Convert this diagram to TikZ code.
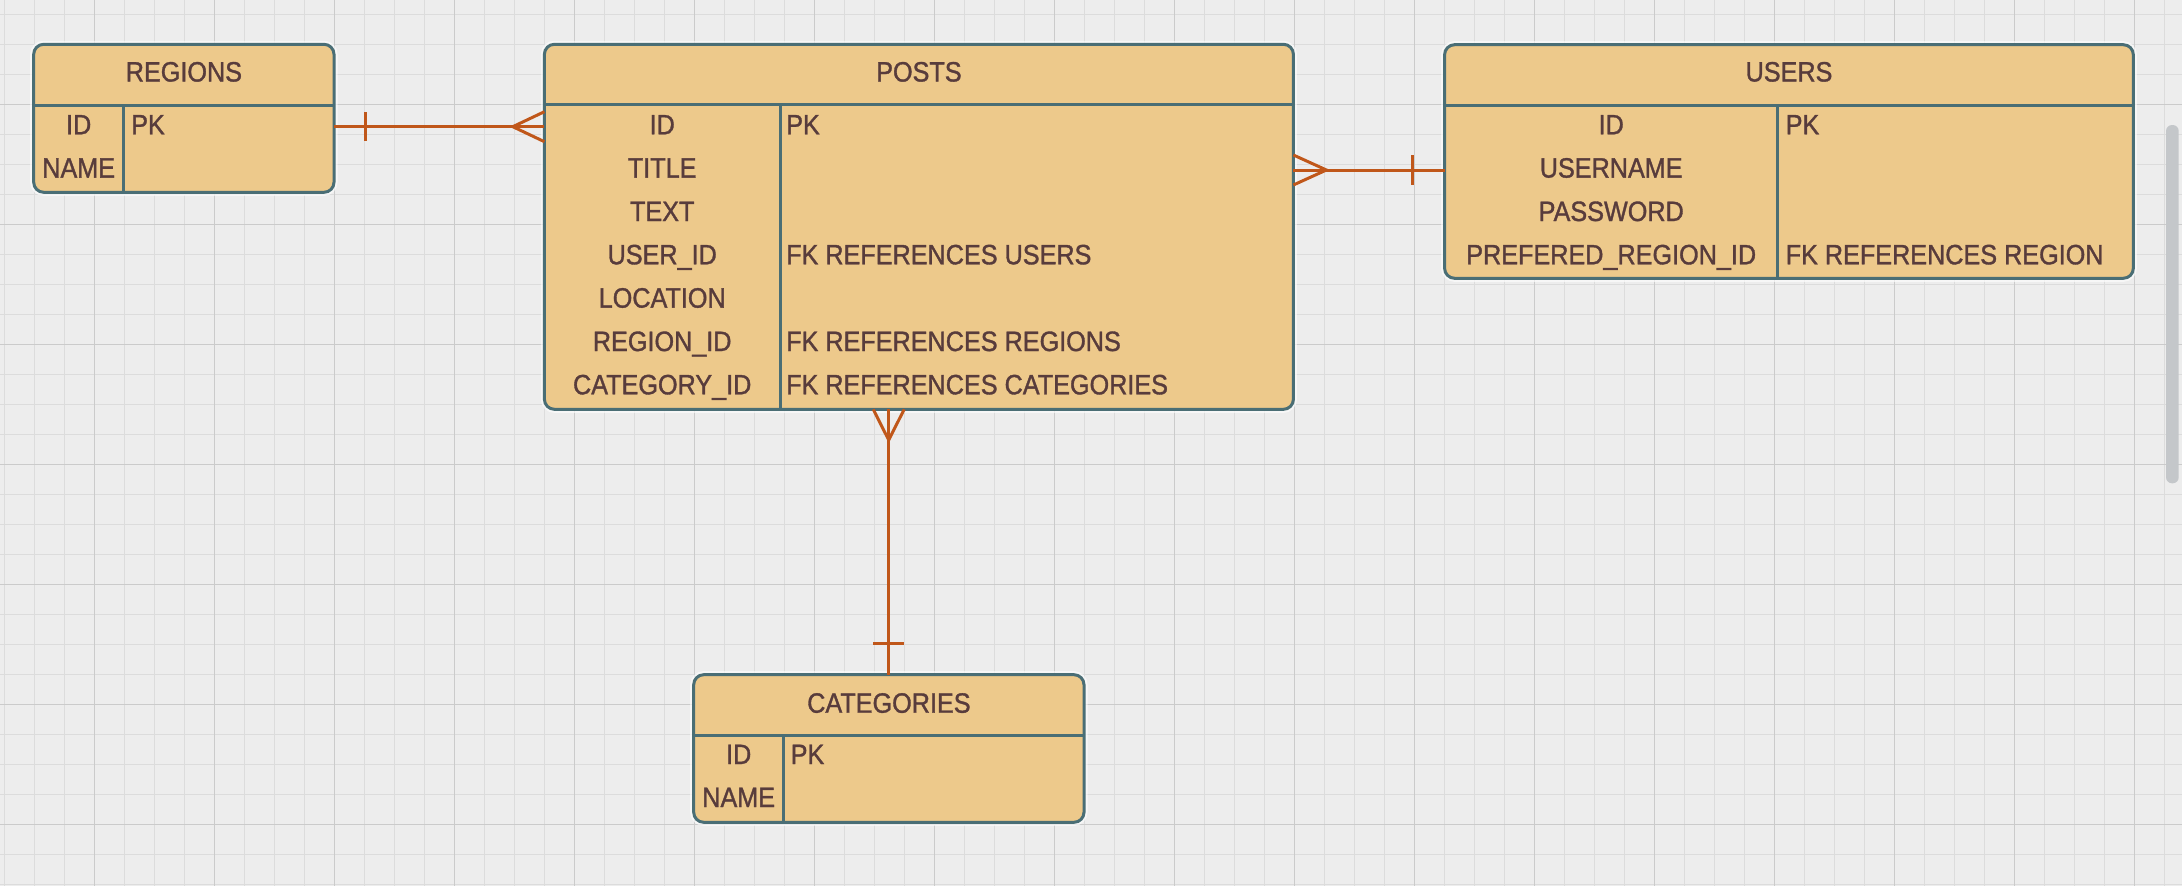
\documentclass[tikz,border=0pt]{standalone}
\usepackage{fontspec}
\setmainfont{Liberation Sans}
\newfontfamily\lblfont{Liberation Sans}[FakeStretch=0.9,FakeBold=1.2]
\definecolor{bgc}{HTML}{EDEDED}
\definecolor{gridminor}{HTML}{DCDCDC}
\definecolor{gridmajor}{HTML}{CBCBCB}
\definecolor{tblfill}{HTML}{EDC98B}
\definecolor{tblborder}{HTML}{4A6E75}
\definecolor{txtc}{HTML}{583C3C}
\definecolor{relc}{HTML}{C0571A}
\definecolor{scrollc}{HTML}{C4C7CA}
\begin{document}
\begin{tikzpicture}[x=1pt,y=-1pt,
  tbl/.style={draw=tblborder, fill=tblfill, line width=3pt, rounded corners=10pt,
    inner sep=0pt, outer sep=0pt, anchor=north west,
    preaction={draw=white, draw opacity=0.6, line width=7pt}},
  divline/.style={draw=tblborder, line width=3pt},
  lbl/.style={text=txtc, inner sep=0pt, anchor=base, font=\lblfont\fontsize{28}{32}\selectfont},
  lbll/.style={lbl, anchor=base west},
  relline/.style={draw=relc, line width=3pt},
  minorline/.style={draw=gridminor, line width=1.1pt},
  majorline/.style={draw=gridmajor, line width=1.3pt}]
\useasboundingbox (0,0) rectangle (2182,886);
\fill[bgc] (0,0) rectangle (2182,886);
% grid
\foreach \i in {0,...,72} {\draw[minorline] ({4.5+30*\i},0) -- ({4.5+30*\i},886);}
\foreach \i in {0,...,29} {\draw[minorline] (0,{14.7+30*\i}) -- (2182,{14.7+30*\i});}
\foreach \i in {0,...,17} {\draw[majorline] ({94.5+120*\i},0) -- ({94.5+120*\i},886);}
\foreach \i in {0,...,6} {\draw[majorline] (0,{104.7+120*\i}) -- (2182,{104.7+120*\i});}
% scrollbar
\fill[scrollc, rounded corners=6pt] (2166,125) rectangle (2178.7,483.3);

% tables
\node[tbl, minimum width=300.3pt, minimum height=148pt] (regions) at (33.7,44.3) {};
\node[tbl, minimum width=749pt, minimum height=365pt] (posts) at (544.4,44.3) {};
\node[tbl, minimum width=688.7pt, minimum height=233.6pt] (users) at (1444.6,44.7) {};
\node[tbl, minimum width=390.3pt, minimum height=147.6pt] (categories) at (693.7,674.7) {};

% connectors
\coordinate (ra) at (regions.east |- 0,126.7);
\coordinate (pa) at (posts.west |- 0,126.7);
\draw[relline] (ra) -- (pa);
\draw[relline] ([shift={(31.5,-14.7)}]ra) -- ([shift={(31.5,14.7)}]ra);
\draw[relline] ([shift={(0,-15)}]pa) -- ([shift={(-31.6,0)}]pa) -- ([shift={(0,15)}]pa);

\coordinate (pb) at (posts.east |- 0,170);
\coordinate (ub) at (users.west |- 0,170);
\draw[relline] (pb) -- (ub);
\draw[relline] ([shift={(0,-15)}]pb) -- ([shift={(33,0)}]pb) -- ([shift={(0,15)}]pb);
\draw[relline] ([shift={(-32.3,-15)}]ub) -- ([shift={(-32.3,15)}]ub);

\coordinate (pc) at (888.7,0 |- posts.south);
\coordinate (cc) at (888.7,0 |- categories.north);
\draw[relline] (pc) -- (cc);
\draw[relline] ([shift={(-15.5,0)}]pc) -- ([shift={(0,30.7)}]pc) -- ([shift={(15.5,0)}]pc);
\draw[relline] ([shift={(-15.5,-31.4)}]cc) -- ([shift={(15.5,-31.4)}]cc);

% regions inner
\draw[divline] (regions.west |- 0,105) -- (regions.east |- 0,105);
\draw[divline] (123.6,105) -- (123.6,0 |- regions.south);
\node[lbl] (rt) at (183.9,81.5) {REGIONS};
\node[lbl] (r1) at (78.7,134.3) {ID};
\node[lbl] (r2) at (78.7,177.6) {NAME};
\node[lbll] (r1b) at (131,134.3) {PK};

% posts inner
\draw[divline] (posts.west |- 0,104.7) -- (posts.east |- 0,104.7);
\draw[divline] (780,104.7) -- (780,0 |- posts.south);
\node[lbl] (pt) at (918.9,81.5) {POSTS};
\node[lbl] (p1) at (662.2,134.3) {ID};
\node[lbl] (p2) at (662.2,177.6) {TITLE};
\node[lbl] (p3) at (662.2,221) {TEXT};
\node[lbl] (p4) at (662.2,264.3) {USER\_ID};
\node[lbl] (p5) at (662.2,307.6) {LOCATION};
\node[lbl] (p6) at (662.2,351) {REGION\_ID};
\node[lbl] (p7) at (662.2,394.3) {CATEGORY\_ID};
\node[lbll] (p1b) at (786,134.3) {PK};
\node[lbll] (p4b) at (786,264.3) {FK REFERENCES USERS};
\node[lbll] (p6b) at (786,351) {FK REFERENCES REGIONS};
\node[lbll] (p7b) at (786,394.3) {FK REFERENCES CATEGORIES};

% users inner
\draw[divline] (users.west |- 0,105) -- (users.east |- 0,105);
\draw[divline] (1777.7,105) -- (1777.7,0 |- users.south);
\node[lbl] (ut) at (1789,81.5) {USERS};
\node[lbl] (u1) at (1611.2,134.3) {ID};
\node[lbl] (u2) at (1611.2,177.6) {USERNAME};
\node[lbl] (u3) at (1611.2,221) {PASSWORD};
\node[lbl] (u4) at (1611.2,264.3) {PREFERED\_REGION\_ID};
\node[lbll] (u1b) at (1785.5,134.3) {PK};
\node[lbll] (u4b) at (1785.5,264.3) {FK REFERENCES REGION};

% categories inner
\draw[divline] (categories.west |- 0,735) -- (categories.east |- 0,735);
\draw[divline] (783.7,735) -- (783.7,0 |- categories.south);
\node[lbl] (ct) at (888.9,712.7) {CATEGORIES};
\node[lbl] (c1) at (738.7,764) {ID};
\node[lbl] (c2) at (738.7,807) {NAME};
\node[lbll] (c1b) at (790.5,764) {PK};
\end{tikzpicture}
\end{document}
